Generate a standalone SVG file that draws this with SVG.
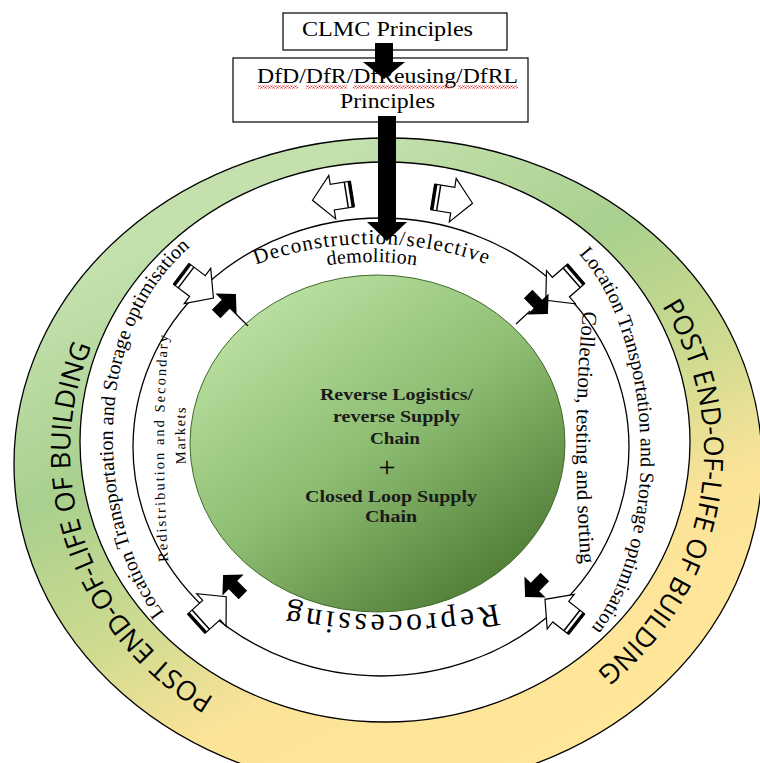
<svg xmlns="http://www.w3.org/2000/svg" width="760" height="763" viewBox="0 0 760 763">
<style>
.ln{stroke:#000;stroke-width:1.3}
.sf{font-family:"Liberation Serif","Times New Roman",serif;fill:#000}
.post{font-family:"Open Sans","Liberation Sans",sans-serif;font-size:27px;fill:#000}
.ctr{font-family:"Liberation Serif","Times New Roman",serif;font-weight:bold;font-size:17px;fill:#1a1a1a;text-anchor:middle}
</style>
<defs>
<linearGradient id="gOuter" x1="0.3" y1="0.1" x2="0.75" y2="0.9">
<stop offset="0" stop-color="#c3e0ad"/>
<stop offset="0.3" stop-color="#a9d08e"/>
<stop offset="0.55" stop-color="#cfdb90"/>
<stop offset="0.75" stop-color="#fbe398"/>
<stop offset="1" stop-color="#ffe699"/>
</linearGradient>
<linearGradient id="gInner" x1="0.15" y1="0.05" x2="0.85" y2="0.95">
<stop offset="0" stop-color="#bfe3a6"/>
<stop offset="0.5" stop-color="#8dbd72"/>
<stop offset="1" stop-color="#4c7832"/>
</linearGradient>
<pattern id="squig" width="4" height="3" patternUnits="userSpaceOnUse">
<polyline points="0,2.5 1,0.5 2,0.5 3,2.5 4,2.5" fill="none" stroke="#e02020" stroke-width="0.9"/>
</pattern>
<g id="wArrow">
<path d="M0 -13 H20 V-22 L40 0 L20 22 V13 H0 Z" fill="#fff" stroke="#000" stroke-width="1.2"/>
<rect x="-1" y="-13" width="3.5" height="26" fill="#000"/>
<rect x="5" y="-13" width="1.5" height="26" fill="#000"/>
</g>
<path id="bArrow" d="M-14 -6 H0 V-15 L14 0 L0 15 V6 H-14 Z" fill="#000"/>
<path id="pPostL" d="M387 745 A317 293 0 0 1 228.5 198.3"/>
<path id="pPostR" d="M515.9 184.3 A317 293 0 0 1 420.1 743.4"/>
<path id="pLocL" d="M168 618 C100 535 80 335 195 243"/>
<path id="pLocR" d="M575 250 C655 330 665 545 588 632"/>
<path id="pDecon" d="M123 379.5 A265 206 0 0 1 621 379.5"/>
<path id="pDemo" d="M164.2 356 A240 188 0 0 1 579.8 356"/>
<path id="pRepro" d="M672.9 503.1 A300 170 0 0 1 109.1 503.1"/>
<path id="pColl" d="M584 300 Q570 437 582 575"/>
<path id="pRedis" d="M169 570 Q159 447 169 325"/>
<path id="pMark" d="M188 490 Q182 435 188 380"/>
</defs>

<g id="outer-ring">
<ellipse cx="388" cy="464" rx="374" ry="326" fill="url(#gOuter)" class="ln"/>
<text class="post"><textPath href="#pPostL" startOffset="48.5%" text-anchor="middle">POST END-OF-LIFE OF BUILDING</textPath></text>
<text class="post"><textPath href="#pPostR" startOffset="50%" text-anchor="middle">POST END-OF-LIFE OF BUILDING</textPath></text>
</g>

<g id="white-ring">
<ellipse cx="385" cy="442" rx="305" ry="280" fill="#fff" class="ln"/>
<ellipse cx="381" cy="447" rx="248" ry="229" fill="none" class="ln"/>
<text class="sf" font-size="20"><textPath href="#pLocL" startOffset="50%" text-anchor="middle">Location Transportation and Storage optimisation</textPath></text>
<text class="sf" font-size="20"><textPath href="#pLocR" startOffset="50%" text-anchor="middle">Location Transportation and Storage optimisation</textPath></text>
</g>

<g id="deconstruction">
<text class="sf" font-size="21" letter-spacing="1.2"><textPath href="#pDecon" startOffset="50%" text-anchor="middle">Deconstruction/selective</textPath></text>
<text class="sf" font-size="20" letter-spacing="0.3"><textPath href="#pDemo" startOffset="50%" text-anchor="middle">demolition</textPath></text>
</g>

<g id="collection">
<text class="sf" font-size="21"><textPath href="#pColl" startOffset="50%" text-anchor="middle">Collection, testing and sorting</textPath></text>
</g>

<g id="reprocessing">
<text class="sf" font-size="32" letter-spacing="3.5"><textPath href="#pRepro" startOffset="50%" text-anchor="middle">Reprocessing</textPath></text>
</g>

<g id="redistribution">
<text class="sf" font-size="14.5" letter-spacing="2"><textPath href="#pRedis" startOffset="50%" text-anchor="middle">Redistribution and Secondary</textPath></text>
<text class="sf" font-size="14.5" letter-spacing="1.5"><textPath href="#pMark" startOffset="50%" text-anchor="middle">Markets</textPath></text>
</g>

<g id="center">
<ellipse cx="377.5" cy="443.5" rx="187.5" ry="168.5" fill="url(#gInner)" stroke="#3f6b2a" stroke-width="1"/>
<text class="ctr" x="396.5" y="400" textLength="153" lengthAdjust="spacingAndGlyphs">Reverse Logistics/</text>
<text class="ctr" x="396.5" y="422" textLength="127" lengthAdjust="spacingAndGlyphs">reverse Supply</text>
<text class="ctr" x="395" y="444" textLength="50" lengthAdjust="spacingAndGlyphs">Chain</text>
<text class="sf" x="387" y="477" font-size="30" text-anchor="middle" fill="#1a1a1a">+</text>
<text class="ctr" x="391" y="502" textLength="172" lengthAdjust="spacingAndGlyphs">Closed Loop Supply</text>
<text class="ctr" x="391" y="522" textLength="52" lengthAdjust="spacingAndGlyphs">Chain</text>
</g>

<g id="clmc-box">
<rect x="283" y="13" width="224" height="37" fill="#fff" stroke="#000" stroke-width="1.2"/>
<text class="sf" x="387.5" y="36" font-size="20" text-anchor="middle" textLength="171" lengthAdjust="spacingAndGlyphs">CLMC Principles</text>
</g>

<g id="dfd-box">
<rect x="233" y="58" width="295" height="64" fill="#fff" stroke="#000" stroke-width="1.2"/>
<text class="sf" x="387.5" y="83" font-size="20" text-anchor="middle" textLength="261" lengthAdjust="spacingAndGlyphs">DfD/DfR/DfReusing/DfRL</text>
<text class="sf" x="387.5" y="108" font-size="20" text-anchor="middle" textLength="95" lengthAdjust="spacingAndGlyphs">Principles</text>
<rect x="258" y="85.5" width="40" height="3" fill="url(#squig)"/>
<rect x="306" y="85.5" width="41" height="3" fill="url(#squig)"/>
<rect x="353" y="85.5" width="99" height="3" fill="url(#squig)"/>
<rect x="458" y="85.5" width="60" height="3" fill="url(#squig)"/>
</g>

<g id="connectors">
<path d="M375 43 H393 V62 H405 L384 79 L363 62 H375 Z" fill="#000"/>
<path d="M378 116 H396 V222 H407 L387 241 L367 222 H378 Z" fill="#000"/>
<use href="#wArrow" transform="translate(352,194) rotate(171)"/>
<use href="#wArrow" transform="translate(433,197) rotate(9)"/>
<use href="#wArrow" transform="translate(181.5,274) rotate(37)"/>
<use href="#wArrow" transform="translate(576,274) rotate(139)"/>
<use href="#wArrow" transform="translate(576.5,624) rotate(218)"/>
<use href="#wArrow" transform="translate(196.5,623.5) rotate(-42)"/>
<line x1="230" y1="308" x2="248" y2="326" stroke="#000" stroke-width="1.2"/>
<line x1="530" y1="311" x2="516" y2="324" stroke="#000" stroke-width="1.2"/>
<use href="#bArrow" transform="translate(226,304) rotate(-45)"/>
<use href="#bArrow" transform="translate(538,304) rotate(45)"/>
<use href="#bArrow" transform="translate(535,587) rotate(135)"/>
<use href="#bArrow" transform="translate(233,585) rotate(-135)"/>
</g>
</svg>
